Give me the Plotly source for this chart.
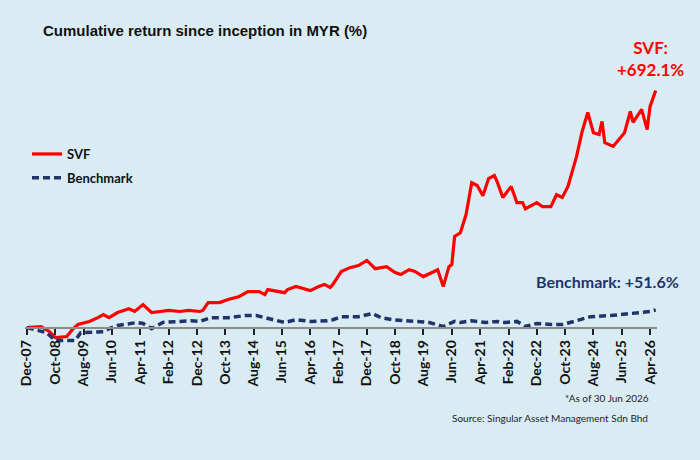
import plotly.graph_objects as go

# ---- data ----
svf_dates = ["2007-12","2008-05","2008-08","2008-10","2009-02","2009-04","2009-06","2009-10","2010-01","2010-03",
             "2010-05","2010-08","2010-12","2011-02","2011-05","2011-08","2011-11","2012-02","2012-06","2012-09",
             "2013-01","2013-02","2013-04","2013-08","2013-11","2014-03","2014-06","2014-10","2014-12","2015-01",
             "2015-07","2015-08","2015-11","2016-02","2016-04","2016-07","2016-09","2016-11","2016-12","2017-03",
             "2017-06","2017-09","2017-12","2018-03","2018-07","2018-10","2018-12","2019-03","2019-05","2019-08",
             "2019-10","2020-01","2020-03","2020-05","2020-06","2020-07","2020-09","2020-11","2021-01","2021-03",
             "2021-05","2021-07","2021-09","2021-10","2021-12","2022-03","2022-05","2022-07","2022-08","2022-10",
             "2022-12","2023-02","2023-05","2023-07","2023-09","2023-11","2024-01","2024-02","2024-04","2024-06",
             "2024-08","2024-10","2024-11","2024-12","2025-03","2025-07","2025-09","2025-10","2026-01","2026-03",
             "2026-04","2026-06"]
svf_values = [0, 3, -12, -29, -26, -6, 9, 18, 29, 38,
              29, 44, 55, 47, 67, 44, 47, 50, 47, 50,
              47, 50, 73, 73, 82, 91, 105, 105, 96, 111,
              102, 111, 120, 114, 108, 120, 126, 117, 126, 164,
              175, 181, 196, 172, 178, 161, 155, 169, 164, 149,
              158, 169, 120, 178, 184, 266, 277, 330, 423, 415,
              385, 435, 444, 426, 380, 412, 365, 365, 347, 356,
              365, 353, 353, 388, 380, 412, 470, 499, 572, 628,
              569, 564, 602, 540, 529, 569, 631, 599, 637, 578,
              645, 692.1]

bm_dates = ["2007-12","2008-03","2008-07","2008-10","2009-05","2009-07","2010-03","2010-05","2010-08","2011-03",
            "2011-05","2011-08","2011-12","2012-06","2012-10","2013-01","2013-05","2013-11","2014-05","2014-09",
            "2014-12","2015-07","2015-11","2016-04","2016-10","2016-12","2017-03","2017-09","2018-02","2018-05",
            "2018-09","2019-04","2019-10","2020-03","2020-07","2020-09","2021-01","2021-06","2021-10","2022-01",
            "2022-05","2022-08","2022-12","2023-05","2023-09","2024-02","2024-07","2025-02","2025-09","2026-04",
            "2026-06"]
bm_values = [0, -6, -15, -38, -38, -15, -12, -3, 6, 15,
             12, -3, 15, 18, 20, 18, 29, 29, 35, 35,
             29, 15, 23, 18, 20, 23, 32, 32, 41, 29,
             23, 20, 15, 3, 18, 15, 20, 15, 18, 15,
             18, 3, 12, 9, 9, 20, 32, 35, 41, 47,
             51.6]

tick_dates = ["2007-12","2008-10","2009-08","2010-06","2011-04","2012-02","2012-12","2013-10","2014-08","2015-06",
              "2016-04","2017-02","2017-12","2018-10","2019-08","2020-06","2021-04","2022-02","2022-12","2023-10",
              "2024-08","2025-06","2026-04"]
tick_labels = ["Dec-07","Oct-08","Aug-09","Jun-10","Apr-11","Feb-12","Dec-12","Oct-13","Aug-14","Jun-15",
               "Apr-16","Feb-17","Dec-17","Oct-18","Aug-19","Jun-20","Apr-21","Feb-22","Dec-22","Oct-23",
               "Aug-24","Jun-25","Apr-26"]

RED = "#FF0000"
NAVY = "#1F3468"
BG = "#DAECF3"
YMIN, YMAX = -45, 720
L, T, PW, PH = 25, 81, 632, 262

def d(s):
    return s + "-01"

def px(x):
    return (x - L) / PW

def py(y):
    return (T + PH - y) / PH

fig = go.Figure()
fig.add_trace(go.Scatter(x=[d(s) for s in svf_dates], y=svf_values, mode="lines", name="SVF",
                         legendgroup="a", line=dict(color=RED, width=3.2)))
fig.add_trace(go.Scatter(x=[d(s) for s in bm_dates], y=bm_values, mode="lines", name="Benchmark",
                         legendgroup="b", line=dict(color=NAVY, width=3.5, dash="7px,4px")))

fig.update_layout(
    width=700, height=460,
    paper_bgcolor=BG, plot_bgcolor=BG,
    margin=dict(l=L, r=700 - L - PW, t=T, b=460 - T - PH, autoexpand=False),
    showlegend=True,
    legend=dict(x=px(27), y=py(139), xanchor="left", yanchor="top",
                bgcolor="rgba(0,0,0,0)", traceorder="grouped", tracegroupgap=4,
                font=dict(family="Lato", size=13, color="#111111", weight="bold")),
    xaxis=dict(type="date", range=["2007-11-10", "2026-06-15"],
               tickvals=[d(s) for s in tick_dates], ticktext=tick_labels, tickangle=-90,
               ticks="outside", ticklen=6, tickwidth=1.5, tickcolor="#222222",
               showline=True, linecolor="#8C8C8C", linewidth=2, showgrid=False, zeroline=False,
               anchor="free", position=(0 - YMIN) / (YMAX - YMIN), automargin=False,
               tickfont=dict(family="Lato", size=14, color="#111111", weight="bold")),
    yaxis=dict(range=[YMIN, YMAX], visible=False, showgrid=False, zeroline=False),
    annotations=[
        dict(text="Cumulative return since inception in MYR (%)", xref="paper", yref="paper",
             x=px(41), y=py(30), xanchor="left", yanchor="middle", showarrow=False,
             font=dict(family="Liberation Sans", size=15, color="#111111", weight="bold")),
        dict(text="SVF:<br>+692.1%", xref="paper", yref="paper", x=px(650), y=py(58),
             xanchor="center", yanchor="middle", showarrow=False, align="center",
             font=dict(family="Lato", size=17, color=RED, weight="bold")),
        dict(text="Benchmark: +51.6%", xref="paper", yref="paper", x=px(607), y=py(281),
             xanchor="center", yanchor="middle", showarrow=False,
             font=dict(family="Lato", size=16, color=NAVY, weight="bold")),
        dict(text="*As of 30 Jun 2026", xref="paper", yref="paper", x=px(651), y=py(398),
             xanchor="right", yanchor="middle", showarrow=False,
             font=dict(family="Lato", size=10, color="#222222")),
        dict(text="Source: Singular Asset Management Sdn Bhd", xref="paper", yref="paper",
             x=px(650), y=py(418), xanchor="right", yanchor="middle", showarrow=False,
             font=dict(family="Lato", size=10, color="#222222")),
    ],
)

fig.write_html("out.html")
